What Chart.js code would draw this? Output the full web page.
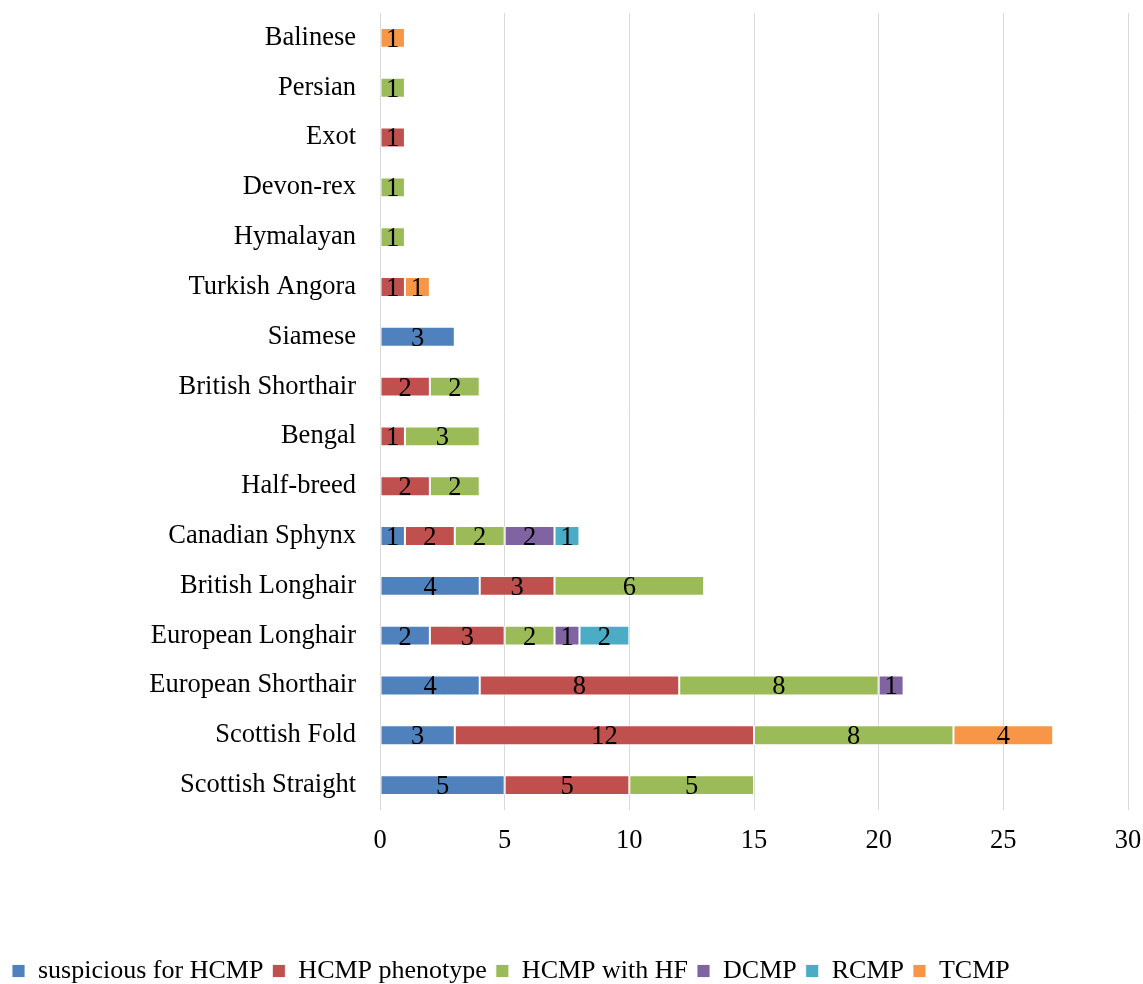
<!DOCTYPE html>
<html>
<head>
<meta charset="utf-8">
<script src="https://cdn.jsdelivr.net/npm/chart.js@4/dist/chart.umd.min.js"></script>
<style>
  html, body { margin: 0; padding: 0; background: #fff; }
  #wrap { width: 1143px; height: 984px; }
</style>
</head>
<body>
<div id="wrap"><canvas id="breedChart" width="1143" height="984"></canvas></div>
<script>
//  Data (top to bottom as drawn)
const breeds = [
  'Balinese', 'Persian', 'Exot', 'Devon-rex', 'Hymalayan', 'Turkish Angora',
  'Siamese', 'British Shorthair', 'Bengal', 'Half-breed', 'Canadian Sphynx',
  'British Longhair', 'European Longhair', 'European Shorthair',
  'Scottish Fold', 'Scottish Straight'
];
const suspicious = [null, null, null, null, null, null, 3, null, null, null, 1, 4, 2, 4, 3, 5];
const phenotype  = [null, null, 1, null, null, 1, null, 2, 1, 2, 2, 3, 3, 8, 12, 5];
const withHF     = [null, 1, null, 1, 1, null, null, 2, 3, 2, 2, 6, 2, 8, 8, 5];
const dcmp       = [null, null, null, null, null, null, null, null, null, null, 2, null, 1, 1, null, null];
const rcmp       = [null, null, null, null, null, null, null, null, null, null, 1, null, 2, null, null, null];
const tcmp       = [1, null, null, null, null, 1, null, null, null, null, null, null, null, null, 4, null];
const xTicks     = [0, 5, 10, 15, 20, 25, 30];

const FONT = '"Liberation Serif", "Times New Roman", serif';

function series(label, data, color) {
  return {
    label, data,
    backgroundColor: color,
    borderColor: 'rgba(255,255,255,0.85)',
    borderWidth: 1,
    borderSkipped: false,
    barPercentage: 0.4,
    categoryPercentage: 1,
  };
}

//  Value labels centred in each segment
const segmentLabels = {
  id: 'segmentLabels',
  afterDatasetsDraw(chart) {
    const ctx = chart.ctx;
    ctx.save();
    ctx.font = '26.5px ' + FONT;
    ctx.fillStyle = '#000';
    ctx.textAlign = 'center';
    ctx.textBaseline = 'middle';
    chart.data.datasets.forEach((ds, di) => {
      const meta = chart.getDatasetMeta(di);
      meta.data.forEach((bar, i) => {
        const v = ds.data[i];
        if (v == null) return;
        const p = bar.getCenterPoint();
        ctx.fillText(String(v), p.x, p.y + 2);
      });
    });
    ctx.restore();
  }
};

new Chart(document.getElementById('breedChart'), {
  type: 'bar',
  data: {
    labels: breeds,
    datasets: [
      series('suspicious for HCMP', suspicious, '#4F81BD'),
      series('HCMP phenotype',      phenotype,  '#C0504D'),
      series('HCMP with HF',        withHF,     '#9BBB59'),
      series('DCMP',                dcmp,       '#8064A2'),
      series('RCMP',                rcmp,       '#4BACC6'),
      series('TCMP',                tcmp,       '#F79646'),
    ]
  },
  options: {
    indexAxis: 'y',
    responsive: false,
    animation: false,
    layout: { padding: { top: 13, right: 15, left: 3, bottom: 0 } },
    scales: {
      x: {
        stacked: true,
        min: 0, max: 30,
        afterBuildTicks: s => { s.ticks = xTicks.map(v => ({ value: v })); },
        afterFit: s => { s.height = 139; s.paddingLeft = 0; s.paddingRight = 0; },
        grid: { color: '#d9d9d9', lineWidth: 1, drawTicks: false },
        border: { display: false },
        ticks: { color: '#000', padding: 15, font: { family: FONT, size: 26.5 } },
      },
      y: {
        stacked: true,
        afterFit: s => { s.width = 377; s.paddingTop = 0; s.paddingBottom = 0; },
        grid: { display: false, drawTicks: false },
        border: { display: false },
        ticks: { color: '#000', padding: 24, font: { family: FONT, size: 26.5 } },
      }
    },
    plugins: {
      legend: {
        position: 'bottom',
        align: 'start',
        maxHeight: 35,
        labels: {
          color: '#000',
          boxWidth: 13,
          boxHeight: 13,
          padding: 9,
          font: { family: FONT, size: 26 },
        }
      },
      tooltip: { enabled: false },
    }
  },
  plugins: [segmentLabels]
});
</script>
</body>
</html>
